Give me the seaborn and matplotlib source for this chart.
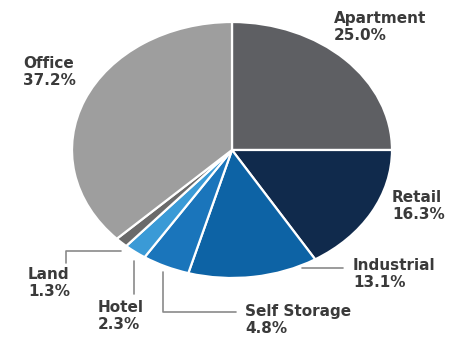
import matplotlib
matplotlib.use('agg')
import matplotlib.pyplot as plt
import seaborn as sns

# data
sectors = ["Apartment", "Retail", "Industrial", "Self Storage", "Hotel", "Land", "Office"]
shares = [25.0, 16.3, 13.1, 4.8, 2.3, 1.3, 37.2]
colors = ["#5e5f63", "#102a4c", "#0d63a5", "#1a75bb", "#3a9ad6", "#6a6a6a", "#9e9e9e"]

W, H = 454, 341

# label anchor (top-left, pixels from top-left of image)
label_pos = {
    "Apartment": (334, 11),
    "Retail": (392, 190),
    "Industrial": (353, 258),
    "Self Storage": (245, 304),
    "Hotel": (98, 300),
    "Land": (28, 267),
    "Office": (23, 56),
}
# leader lines in pixel coords
leaders = {
    "Industrial": [(302, 268), (343, 268)],
    "Self Storage": [(163, 272), (163, 312), (236, 312)],
    "Hotel": [(134, 261), (134, 294)],
    "Land": [(121, 251), (66, 251), (66, 263)],
}


def px(x, y):
    return x / W, 1 - y / H


def main():
    sns.set_theme(style="white")
    plt.rcParams['font.family'] = ['DejaVu Sans']

    fig = plt.figure(figsize=(W / 100, H / 100), dpi=100)
    ax = fig.add_axes([0, 0, 1, 1])

    ax.pie(shares, colors=colors, startangle=90, counterclock=False,
           wedgeprops=dict(edgecolor="white", linewidth=1.6))

    # ellipse: rx=160px, ry=128px, centre at (232, 150)
    cx, cy, rx, ry = 232, 150, 160, 128
    ax.set_aspect('auto')
    ax.set_xlim(-cx / rx, (W - cx) / rx)
    ax.set_ylim(-(H - cy) / ry, cy / ry)
    ax.axis('off')

    for name, val in zip(sectors, shares):
        x, y = label_pos[name]
        fx, fy = px(x, y)
        ax.text(fx, fy, "{}\n{:.1f}%".format(name, val), transform=ax.transAxes,
                ha="left", va="top", fontsize=11, fontweight="bold",
                color="#3a3a3a", linespacing=1.2)

    for name, pts in leaders.items():
        xs, ys = zip(*[px(a, b) for a, b in pts])
        ax.plot(xs, ys, color="#8a8a8a", lw=1.2, transform=ax.transAxes,
                clip_on=False)

    fig.savefig("out.png", dpi=100, facecolor="white")


if __name__ == "__main__":
    main()
